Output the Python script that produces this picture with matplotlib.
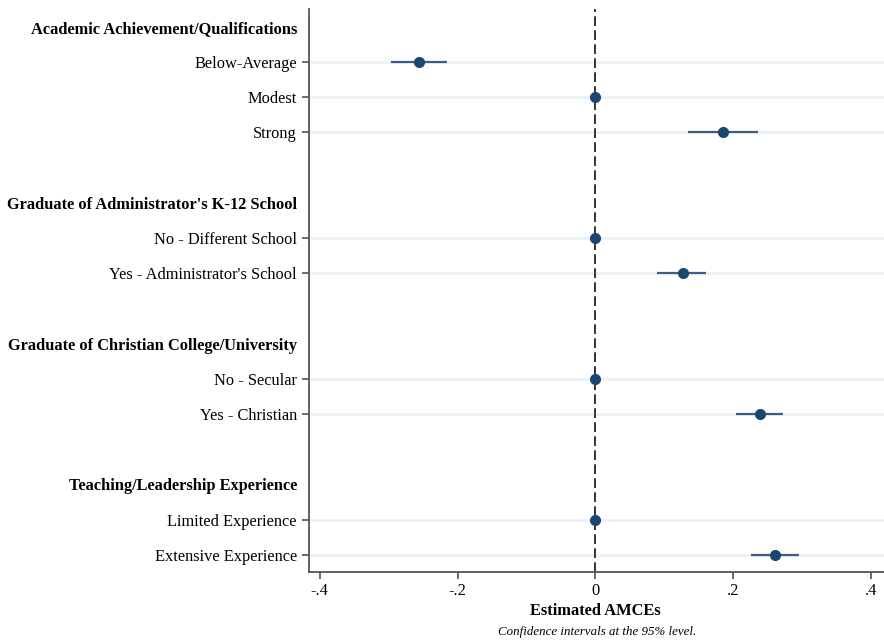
import matplotlib
matplotlib.use("Agg")
import matplotlib.pyplot as plt

# Data
rows = [
    "Academic Achievement/Qualifications",
    "Below-Average", "Modest", "Strong",
    "",
    "Graduate of Administrator's K-12 School",
    "No - Different School", "Yes - Administrator's School",
    "",
    "Graduate of Christian College/University",
    "No - Secular", "Yes - Christian",
    "",
    "Teaching/Leadership Experience",
    "Limited Experience", "Extensive Experience",
]
headers = [
    "Academic Achievement/Qualifications",
    "Graduate of Administrator's K-12 School",
    "Graduate of Christian College/University",
    "Teaching/Leadership Experience",
]
levels = ["Below-Average", "Modest", "Strong",
          "No - Different School", "Yes - Administrator's School",
          "No - Secular", "Yes - Christian",
          "Limited Experience", "Extensive Experience"]
estimates = [-0.256, 0.0, 0.185, 0.0, 0.127, 0.0, 0.239, 0.0, 0.261]
ci_low = [-0.296, 0.0, 0.135, 0.0, 0.090, 0.0, 0.204, 0.0, 0.226]
ci_high = [-0.215, 0.0, 0.236, 0.0, 0.161, 0.0, 0.273, 0.0, 0.296]
xticks = [-0.4, -0.2, 0.0, 0.2, 0.4]
xticklabels = ["-.4", "-.2", "0", ".2", ".4"]

serif = ["Liberation Serif", "DejaVu Serif"]
plt.rcParams["font.family"] = serif

fig = plt.figure(figsize=(8.84, 6.4), dpi=100)
ax = fig.add_axes([0.35, 0.1058, 0.65, 0.8797])

navy = "#1a476f"
ci_col = "#3d5d85"
grid_col = "#eaf0f3"

ypos = {name: i for i, name in enumerate(rows) if name}

# grid lines at level rows
for lv in levels:
    ax.axhline(ypos[lv], color=grid_col, lw=1.8, zorder=0)

ax.axvline(0, color="#333333", lw=1.4, ls=(0, (5, 2.2)), zorder=1)

for lv, e, lo, hi in zip(levels, estimates, ci_low, ci_high):
    y = ypos[lv]
    ax.plot([lo, hi], [y, y], color=ci_col, lw=1.6, solid_capstyle="butt", zorder=2)
    ax.plot([e], [y], "o", color=navy, ms=7.0, zorder=3)

ax.set_xlim(-0.415, 0.419)
ax.set_ylim(15.5, -0.5)

tick_names = [n for n in rows if n]
ax.set_yticks([ypos[n] for n in tick_names])
ax.set_yticklabels(tick_names, fontsize=11.8)
for lab, n in zip(ax.get_yticklabels(), tick_names):
    if n in headers:
        lab.set_fontweight("bold")
for tk, n in zip(ax.yaxis.get_major_ticks(), tick_names):
    if n in headers:
        tk.tick1line.set_visible(False)

ax.set_xticks(xticks)
ax.set_xticklabels(xticklabels, fontsize=11.8)
ax.tick_params(axis="both", direction="out", length=5, width=1.1, color="#444444", pad=4)
ax.tick_params(axis="x", pad=3)

for s in ["top", "right"]:
    ax.spines[s].set_visible(False)
for s in ["left", "bottom"]:
    ax.spines[s].set_color("#555555")
    ax.spines[s].set_linewidth(1.3)

fig.text(595 / 884, 1 - 611 / 640, "Estimated AMCEs", ha="center", va="center",
         fontsize=11.8, fontweight="bold")
fig.text(597 / 884, 1 - 632 / 640, "Confidence intervals at the 95% level.",
         ha="center", va="center", fontsize=9.3, style="italic")

fig.savefig("out.png", dpi=100)
